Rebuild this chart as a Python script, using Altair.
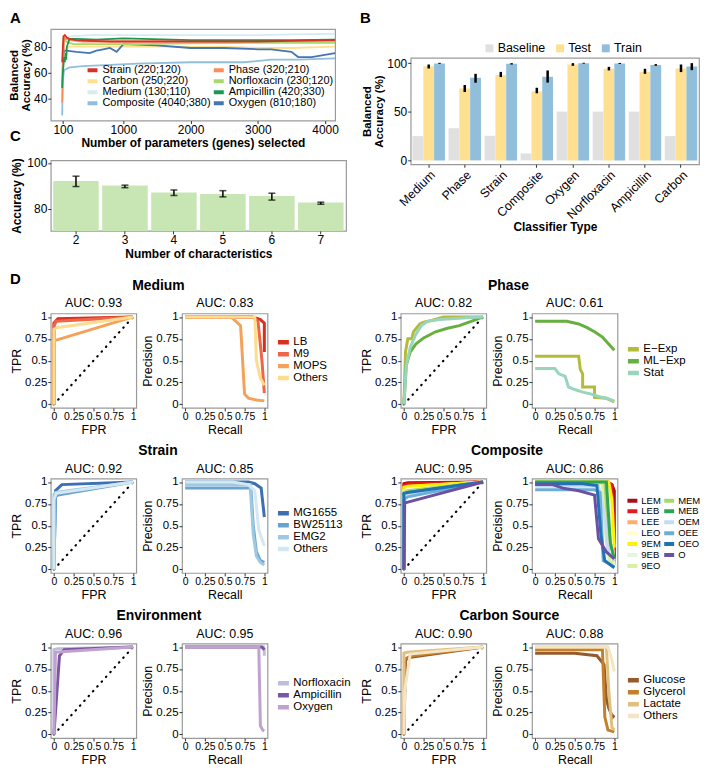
import altair as alt
import pandas as pd

FONT = "Liberation Sans"

# ---------------- Panel A data ----------------
A_NAMES = ["Strain (220;120)", "Carbon (250;220)", "Medium (130;110)", "Composite (4040;380)",
           "Phase (320;210)", "Norfloxacin (230;120)", "Ampicillin (420;330)", "Oxygen (810;180)"]
A_COLORS = ["#D73027", "#FEE090", "#D5ECF3", "#91BFDB", "#FC8D59", "#A6D96A", "#1A9850", "#4575B4"]
A_X = {
    "Strain (220;120)": [90, 100, 110, 130, 160, 200, 300, 500, 800, 1200, 2000, 3000, 3500, 4150],
    "Phase (320;210)": [90, 100, 120, 150, 200, 400, 800, 1500, 2500, 3500, 4150],
    "Carbon (250;220)": [90, 100, 130, 200, 400, 800, 1500, 2500, 3000, 3500, 4150],
    "Norfloxacin (230;120)": [90, 110, 150, 250, 600, 1200, 2000, 3000, 4150],
    "Medium (130;110)": [90, 110, 200, 500, 1000, 2000, 3000, 3500, 4150],
    "Ampicillin (420;330)": [90, 100, 120, 130, 140, 150, 160, 180, 200, 300, 600, 1000, 2000, 3000, 3500, 4150],
    "Composite (4040;380)": [90, 100, 120, 200, 400, 800, 1200, 2000, 2800, 3200, 3600, 4150],
    "Oxygen (810;180)": [110, 130, 150, 300, 500, 600, 700, 800, 900, 1000, 1500, 2000, 2500, 3000, 3200,
                         3500, 3600, 3800, 4150],
}
A_Y = {
    "Strain (220;120)": [68, 80, 88, 89, 87, 86, 85, 84.5, 84, 84, 84, 84, 84.5, 85],
    "Phase (320;210)": [37, 65, 87, 86, 85, 84, 84, 84, 84, 84.5, 84.5],
    "Carbon (250;220)": [50, 70, 78, 80, 80, 80, 80, 80, 79, 79, 80],
    "Norfloxacin (230;120)": [50, 87, 84, 82, 82, 82, 82.5, 83, 83],
    "Medium (130;110)": [55, 85, 88, 89, 89, 89, 89, 89.5, 90],
    "Ampicillin (420;330)": [48, 60, 72, 68, 75, 70, 80, 83, 86, 86, 85.5, 86.5, 85, 85, 85, 85.5],
    "Composite (4040;380)": [27, 55, 62, 64, 65, 66, 67, 68, 68, 70, 70, 71],
    "Oxygen (810;180)": [75, 77, 77, 76, 75, 77, 78, 79, 76, 82, 81, 79, 79, 78, 78, 76, 72, 72, 75],
}
A_DRAW_ORDER = ["Composite (4040;380)", "Medium (130;110)", "Carbon (250;220)", "Oxygen (810;180)",
                "Norfloxacin (230;120)", "Phase (320;210)", "Ampicillin (420;330)", "Strain (220;120)"]
A_XTICKS = [100, 1000, 2000, 3000, 4000]
A_YTICKS = [40, 60, 80]

# ---------------- Panel B data ----------------
B_CLASSES = ["Medium", "Phase", "Strain", "Composite", "Oxygen", "Norfloxacin", "Ampicillin", "Carbon"]
B_TYPES = ["Baseline", "Test", "Train"]
B_COLORS = ["#E0E0E0", "#FEE090", "#91BFDB"]
B_BASE = [25, 33.1, 25.3, 7.2, 50.2, 50.2, 50.2, 25]
B_TEST = [96.9, 74, 87.7, 71, 98.6, 94.2, 91.1, 94.5]
B_TEST_LO = [94.5, 70.3, 85.7, 69, 97.3, 92.5, 89, 90.8]
B_TEST_HI = [98.6, 77.5, 91, 74.7, 100, 96.2, 94.2, 98.6]
B_TRAIN = [99.7, 85, 99.3, 86, 100, 99.7, 98, 96.6]
B_TRAIN_LO = [99.3, 79.9, 98.6, 80, 99.5, 99.2, 97.3, 92.8]
B_TRAIN_HI = [100.3, 89, 100, 92.5, 100.4, 100.2, 99, 100]
B_YTICKS = [0, 25, 50, 75, 100]

# ---------------- Panel C data ----------------
C_N = [2, 3, 4, 5, 6, 7]
C_ACC = [92.1, 90.1, 87.1, 86.5, 85.6, 82.8]
C_LO = [89.7, 89.2, 85.8, 85.2, 83.8, 82.0]
C_HI = [94.2, 90.3, 88.2, 87.9, 86.8, 82.9]
C_YTICKS = [80, 90, 100]

# ---------------- Panel D data ----------------
D_TICKS = [0, 0.25, 0.5, 0.75, 1]

MED_CATS = ["LB", "M9", "MOPS", "Others"]
MED_COLORS = ["#D7301F", "#EF6548", "#F4A259", "#FEDC8E"]
MED_ROC_X = {"LB": [0, 0, 0.05, 1], "M9": [0, 0, 0.03, 1], "MOPS": [0, 0, 0.05, 1], "Others": [0, 0, 0.05, 1]}
MED_ROC_Y = {"LB": [0, 0.93, 0.98, 1], "M9": [0, 0.9, 0.95, 1], "MOPS": [0, 0.73, 0.74, 1], "Others": [0, 0.86, 0.88, 1]}
MED_PR_X = {"LB": [0, 0.85, 0.95, 1, 1], "M9": [0, 0.85, 0.92, 0.97, 1],
            "MOPS": [0, 0.58, 0.7, 0.75, 0.8, 0.9, 1], "Others": [0, 0.88, 0.9, 0.95, 1]}
MED_PR_Y = {"LB": [1, 1, 0.97, 0.93, 0.6], "M9": [1, 1, 0.95, 0.5, 0.13],
            "MOPS": [1, 1, 0.9, 0.12, 0.07, 0.05, 0.04], "Others": [1, 1, 0.5, 0.3, 0.22]}

PH_CATS = ["E\u2212Exp", "ML\u2212Exp", "Stat"]
PH_COLORS = ["#B3BC38", "#67AF3F", "#99D5BD"]
PH_ROC_X = {"E\u2212Exp": [0, 0.02, 0.05, 0.1, 0.12, 0.2, 0.25, 0.35, 0.5, 1],
            "ML\u2212Exp": [0, 0.03, 0.08, 0.15, 0.25, 0.4, 0.55, 0.7, 0.85, 1],
            "Stat": [0, 0.03, 0.08, 0.15, 0.22, 0.3, 0.45, 0.6, 0.8, 1]}
PH_ROC_Y = {"E\u2212Exp": [0, 0.6, 0.75, 0.75, 0.83, 0.92, 0.94, 0.96, 1, 1],
            "ML\u2212Exp": [0, 0.45, 0.6, 0.69, 0.76, 0.83, 0.87, 0.9, 0.95, 1],
            "Stat": [0, 0.45, 0.65, 0.8, 0.9, 0.95, 0.97, 0.98, 0.99, 1]}
PH_PR_X = {"E\u2212Exp": [0, 0.55, 0.57, 0.6, 0.6, 0.75, 0.75, 0.9, 1],
           "ML\u2212Exp": [0, 0.4, 0.55, 0.65, 0.75, 0.85, 0.92, 1],
           "Stat": [0, 0.25, 0.3, 0.38, 0.42, 0.5, 0.6, 0.7, 0.8, 0.9, 1]}
PH_PR_Y = {"E\u2212Exp": [0.55, 0.55, 0.4, 0.35, 0.2, 0.2, 0.08, 0.07, 0.03],
           "ML\u2212Exp": [0.95, 0.95, 0.92, 0.88, 0.83, 0.77, 0.7, 0.62],
           "Stat": [0.41, 0.41, 0.35, 0.32, 0.2, 0.17, 0.14, 0.12, 0.09, 0.07, 0.04]}

ST_CATS = ["MG1655", "BW25113", "EMG2", "Others"]
ST_COLORS = ["#3E6FB0", "#6BA3CF", "#9DCAE0", "#D3E8F2"]
ST_ROC_X = {"MG1655": [0, 0.02, 0.1, 1], "BW25113": [0, 0.02, 0.05, 1], "EMG2": [0, 0, 0.02, 1], "Others": [0, 0, 0.03, 1]}
ST_ROC_Y = {"MG1655": [0, 0.9, 0.97, 1], "BW25113": [0, 0.83, 0.85, 1], "EMG2": [0, 0.86, 0.88, 1], "Others": [0, 0.8, 0.87, 1]}
ST_PR_X = {"MG1655": [0, 0.8, 0.88, 0.96, 1], "BW25113": [0, 0.83, 0.86, 0.9, 0.95, 1],
           "EMG2": [0, 0.82, 0.86, 0.9, 0.95, 1], "Others": [0, 0.6, 0.8, 0.88, 0.93, 1]}
ST_PR_Y = {"MG1655": [1, 1, 0.98, 0.93, 0.6], "BW25113": [0.93, 0.93, 0.5, 0.2, 0.1, 0.08],
           "EMG2": [0.97, 0.97, 0.4, 0.15, 0.08, 0.05], "Others": [1, 1, 0.97, 0.9, 0.45, 0.27]}

CO_CATS = ["LEM", "LEB", "LEE", "LEO", "9EM", "9EB", "9EO", "MEM", "MEB", "OEM", "OEE", "OEO", "O"]
CO_COLORS = ["#A50F15", "#E31A1C", "#FDAE6B", "#FFFFCC", "#FFF200", "#E5F5E0", "#D9F0A3",
             "#A6D96A", "#31A354", "#C6DBEF", "#6BAED6", "#2171B5", "#6A51A3"]
CO_ROC_X = {c: [0, 0, 0.05, 1] for c in CO_CATS}
CO_ROC_X["O"] = [0, 0.01, 0.05, 1]
CO_ROC_Y = {"LEM": [0, 0.98, 0.99, 1], "LEB": [0, 0.96, 0.98, 1], "LEE": [0, 0.93, 0.95, 1],
            "LEO": [0, 0.91, 0.94, 1], "9EM": [0, 0.94, 0.95, 1], "9EB": [0, 0.89, 0.9, 1],
            "9EO": [0, 0.87, 0.9, 1], "MEM": [0, 0.88, 0.9, 1], "MEB": [0, 0.86, 0.88, 1],
            "OEM": [0, 0.83, 0.86, 1], "OEE": [0, 0.8, 0.83, 1], "OEO": [0, 0.87, 0.88, 1],
            "O": [0, 0.76, 0.77, 1]}
CO_PR_X = {"LEM": [0, 0.9, 0.97, 1, 1], "LEB": [0, 0.92, 0.97, 0.99, 1], "LEE": [0, 0.85, 0.9, 0.93, 1],
           "LEO": [0, 0.9, 0.95, 1], "9EM": [0, 0.93, 0.97, 1], "9EB": [0, 0.8, 0.88, 0.93, 1],
           "9EO": [0, 0.85, 0.9, 0.95, 1], "MEM": [0, 0.88, 0.93, 1], "MEB": [0, 0.9, 0.95, 1],
           "OEM": [0, 0.8, 0.88, 0.92, 1], "OEE": [0, 0.75, 0.82, 0.86, 1],
           "OEO": [0, 0.6, 0.78, 0.83, 0.88, 1], "O": [0, 0.22, 0.35, 0.55, 0.75, 0.8, 0.9, 1]}
CO_PR_Y = {"LEM": [0.99, 0.99, 0.97, 0.9, 0.1], "LEB": [1, 1, 0.97, 0.6, 0.05], "LEE": [1, 1, 0.9, 0.1, 0.03],
           "LEO": [1, 1, 0.6, 0.05], "9EM": [1, 1, 0.8, 0.25], "9EB": [0.98, 0.98, 0.5, 0.1, 0.05],
           "9EO": [0.98, 0.98, 0.3, 0.08, 0.08], "MEM": [1, 1, 0.4, 0.1], "MEB": [1, 1, 0.3, 0.12],
           "OEM": [0.95, 0.95, 0.6, 0.2, 0.1], "OEE": [0.91, 0.91, 0.88, 0.1, 0.03],
           "OEO": [0.98, 0.98, 0.96, 0.4, 0.1, 0.02], "O": [0.97, 0.97, 0.93, 0.9, 0.85, 0.35, 0.2, 0.12]}

EN_CATS = ["Norfloxacin", "Ampicillin", "Oxygen"]
EN_COLORS = ["#BDBEDC", "#7A56A4", "#C1A2CF"]
EN_ROC_X = {"Norfloxacin": [0, 0, 0.05, 1], "Ampicillin": [0, 0.07, 0.13, 1], "Oxygen": [0, 0.02, 0.15, 1]}
EN_ROC_Y = {"Norfloxacin": [0, 0.97, 0.98, 1], "Ampicillin": [0, 0.9, 0.97, 1], "Oxygen": [0, 0.94, 0.95, 1]}
EN_PR_X = {"Norfloxacin": [0, 0.99, 1, 1], "Ampicillin": [0, 0.97, 1], "Oxygen": [0, 0.93, 0.95, 0.98, 1]}
EN_PR_Y = {"Norfloxacin": [1, 1, 0.97, 0.9], "Ampicillin": [1, 1, 0.97], "Oxygen": [1, 1, 0.1, 0.05, 0.04]}

CA_CATS = ["Glucose", "Glycerol", "Lactate", "Others"]
CA_COLORS = ["#98592B", "#C3802A", "#DFC07E", "#F4E6C5"]
CA_ROC_X = {"Glucose": [0, 0.02, 0.06, 1], "Glycerol": [0, 0.01, 0.1, 1], "Lactate": [0, 0, 0.04, 1], "Others": [0, 0.01, 0.08, 1]}
CA_ROC_Y = {"Glucose": [0, 0.85, 0.88, 1], "Glycerol": [0, 0.86, 0.9, 1], "Lactate": [0, 0.93, 0.94, 1], "Others": [0, 0.5, 0.92, 1]}
CA_PR_X = {"Glucose": [0, 0.5, 0.78, 0.87, 0.9, 0.93, 0.98, 1], "Glycerol": [0, 0.85, 0.88, 0.92, 1],
           "Lactate": [0, 0.9, 0.93, 0.97, 1], "Others": [0, 0.92, 0.97, 1]}
CA_PR_Y = {"Glucose": [0.93, 0.93, 0.9, 0.8, 0.4, 0.3, 0.2, 0.22], "Glycerol": [0.97, 0.97, 0.2, 0.05, 0.03],
           "Lactate": [1, 1, 0.5, 0.08, 0.05], "Others": [1, 1, 0.85, 0.72]}


# ---------------- helpers ----------------
def long_df(names, xs, ys, field):
    rows = []
    for k, n in enumerate(names):
        for i, (x, y) in enumerate(zip(xs[n], ys[n])):
            rows.append({field: n, "x": x, "y": y, "i": i, "z": k})
    return pd.DataFrame(rows)


def letter(t, x, y):
    return alt.Chart(pd.DataFrame({"t": [t]})).mark_text(
        align="left", baseline="top", fontSize=15, fontWeight="bold", font=FONT, color="black"
    ).encode(text="t:N", x=alt.value(x), y=alt.value(y))


# ---------------- Panel A ----------------
A_W, A_H = 286, 92
dfA = long_df(A_DRAW_ORDER, A_X, A_Y, "series")
lineA = alt.Chart(dfA).mark_line(strokeWidth=1.8, clip=True).encode(
    x=alt.X("x:Q", scale=alt.Scale(domain=[-80, 4150], nice=False, zero=False),
            axis=alt.Axis(values=A_XTICKS, format="d", title="Number of parameters (genes) selected",
                          labelFlush=False, titlePadding=2)),
    y=alt.Y("y:Q", scale=alt.Scale(domain=[23, 93.6], nice=False, zero=False),
            axis=alt.Axis(values=A_YTICKS, title=["Balanced", "Accuracy (%)"], titleFontSize=11.5,
                          titleLineHeight=12, titlePadding=2, labelPadding=1)),
    color=alt.Color("series:N", scale=alt.Scale(domain=A_NAMES, range=A_COLORS),
                    legend=alt.Legend(orient="none", legendX=35, legendY=36, columns=2, title=None,
                                      symbolType="stroke", symbolStrokeWidth=4, symbolSize=100,
                                      labelFontSize=11, rowPadding=-2.5, columnPadding=1, labelOffset=3,
                                      clipHeight=11)),
    order=alt.Order("i:Q"),
)
chartA = alt.layer(lineA, letter("A", -41, -18), letter("C", -41, 101)).properties(width=A_W, height=A_H)

# ---------------- Panel C ----------------
C_W, C_H = 297, 71
dfC = pd.DataFrame({"n": C_N, "acc": C_ACC, "lo": C_LO, "hi": C_HI, "zero": [0] * len(C_N)})
c_x = alt.X("n:O", scale=alt.Scale(paddingInner=0.07, paddingOuter=0.05),
            axis=alt.Axis(labelAngle=0, title="Number of characteristics", titlePadding=3))
c_yscale = alt.Scale(domain=[70.4, 101.1], nice=False, zero=False)
barsC = alt.Chart(dfC).mark_bar(color="#C8E6B4", clip=True).encode(
    x=c_x,
    y=alt.Y("acc:Q", scale=c_yscale, axis=alt.Axis(values=C_YTICKS, title="Accuracy (%)")),
    y2="zero:Q",
)
errC = alt.Chart(dfC).mark_rule(color="black", strokeWidth=1.5).encode(x=c_x, y=alt.Y("lo:Q", scale=c_yscale), y2="hi:Q")
capLo = alt.Chart(dfC).mark_tick(color="black", size=7, thickness=1.5).encode(x=c_x, y=alt.Y("lo:Q", scale=c_yscale))
capHi = alt.Chart(dfC).mark_tick(color="black", size=7, thickness=1.5).encode(x=c_x, y=alt.Y("hi:Q", scale=c_yscale))
chartC = alt.layer(barsC, errC, capLo, capHi, letter("D", -41, 112)).properties(width=C_W, height=C_H)

# ---------------- Panel B ----------------
B_W, B_H = 290, 107
rowsB = []
for k, c in enumerate(B_CLASSES):
    rowsB.append({"cls": c, "type": "Baseline", "val": B_BASE[k], "lo": None, "hi": None})
    rowsB.append({"cls": c, "type": "Test", "val": B_TEST[k], "lo": B_TEST_LO[k], "hi": B_TEST_HI[k]})
    rowsB.append({"cls": c, "type": "Train", "val": B_TRAIN[k], "lo": B_TRAIN_LO[k], "hi": B_TRAIN_HI[k]})
dfB = pd.DataFrame(rowsB)
b_x = alt.X("cls:N", sort=B_CLASSES, scale=alt.Scale(paddingInner=0.1, paddingOuter=0.05),
            axis=alt.Axis(labelAngle=-45, title="Classifier Type", labelFontSize=12.5, titlePadding=1))
b_off = alt.XOffset("type:N", sort=B_TYPES, scale=alt.Scale(paddingInner=0, paddingOuter=0))
b_yscale = alt.Scale(domain=[-4, 105.4], nice=False, zero=False)
barsB = alt.Chart(dfB).mark_bar().encode(
    x=b_x, xOffset=b_off,
    y=alt.Y("val:Q", scale=b_yscale, axis=alt.Axis(values=B_YTICKS, title=["Balanced", "Accuracy (%)"],
                                                 titleFontSize=11.5, titleLineHeight=12, titlePadding=2,
                                                 labelPadding=1)),
    color=alt.Color("type:N", scale=alt.Scale(domain=B_TYPES, range=B_COLORS),
                    legend=alt.Legend(orient="none", legendX=73, legendY=-16, direction="horizontal",
                                      title=None, symbolType="square", symbolSize=64, symbolStrokeWidth=0,
                                      labelFontSize=12.5, columnPadding=8, labelOffset=2)),
)
errB = alt.Chart(dfB).transform_filter("datum.type != 'Baseline'").mark_rule(color="black", strokeWidth=2.5).encode(
    x=b_x, xOffset=b_off, y=alt.Y("lo:Q", scale=b_yscale), y2="hi:Q")
chartB = alt.layer(barsB, errB).properties(width=B_W, height=B_H)
spacerB = letter("B", -51, -18).properties(width=B_W, height=1, view=alt.ViewBackground(stroke="transparent"))

# ---------------- Panel D ----------------
D_W, D_H = 86, 95


def d_axis(t, lsize):
    return alt.Axis(values=D_TICKS, format=".2~f", title=t, labelFlush=False, labelOverlap=False,
                    titleFontWeight="normal", titleFontSize=12.5, labelFontSize=lsize,
                    labelPadding=1, titlePadding=1)


def d_group(key, title, auc_roc, auc_pr, cats, colors, rx, ry, px, py, cols=1, lfs=11.5,
            first=30, tdx=0, ssize=121, sw=4.5, ch=11.3, rp=-1.5):
    cscale = alt.Scale(domain=cats, range=colors)
    sc = alt.Scale(domain=[-0.04, 1.04], nice=False, zero=False)
    xr = alt.X("x:Q", scale=sc, axis=d_axis("FPR", 10.5))
    yr = alt.Y("y:Q", scale=sc, axis=d_axis("TPR", 11.5))
    diag = alt.Chart(pd.DataFrame({"x": [0, 1], "y": [0, 1]})).mark_line(
        color="black", strokeDash=[0.5, 6], strokeWidth=2.2, strokeCap="round"
    ).encode(x=xr, y=yr)
    roc_lines = alt.Chart(long_df(cats, rx, ry, key)).mark_line(strokeWidth=3, clip=True).encode(
        x=xr, y=yr, color=alt.Color(f"{key}:N", scale=cscale, legend=None), order=alt.Order("i:Q"))
    roc = alt.layer(diag, roc_lines).properties(
        width=D_W, height=D_H,
        title=alt.Title(f"AUC: {auc_roc}", fontSize=12.5, fontWeight="normal", offset=1))
    pr = alt.Chart(long_df(cats, px, py, key)).mark_line(strokeWidth=3, clip=True).encode(
        x=alt.X("x:Q", scale=sc, axis=d_axis("Recall", 10.5)),
        y=alt.Y("y:Q", scale=sc, axis=d_axis("Precision", 11.5)),
        color=alt.Color(f"{key}:N", scale=cscale,
                        legend=alt.Legend(orient="none", legendX=D_W + 8, legendY=first - ch / 2,
                                          title=None, columns=cols, symbolType="stroke",
                                          symbolStrokeWidth=sw, symbolSize=ssize, labelFontSize=lfs,
                                          rowPadding=rp, columnPadding=1, labelOffset=2, clipHeight=ch)),
        order=alt.Order("i:Q"),
    ).properties(width=D_W, height=D_H,
                 title=alt.Title(f"AUC: {auc_pr}", fontSize=12.5, fontWeight="normal", offset=1))
    return alt.hconcat(roc, pr, spacing=3).properties(
        title=alt.Title(title, anchor="middle", fontSize=14, fontWeight="bold", offset=4, dx=tdx)
    ).resolve_scale(color="independent")


g1 = d_group("k_med", "Medium", "0.93", "0.83", MED_CATS, MED_COLORS, MED_ROC_X, MED_ROC_Y, MED_PR_X, MED_PR_Y,
             first=29, tdx=-11)
g2 = d_group("k_ph", "Phase", "0.82", "0.61", PH_CATS, PH_COLORS, PH_ROC_X, PH_ROC_Y, PH_PR_X, PH_PR_Y,
             first=36, tdx=-15)
g3 = d_group("k_st", "Strain", "0.92", "0.85", ST_CATS, ST_COLORS, ST_ROC_X, ST_ROC_Y, ST_PR_X, ST_PR_Y,
             first=35, tdx=-19, lfs=11.5, rp=-1)
g4 = d_group("k_co", "Composite", "0.95", "0.86", CO_CATS, CO_COLORS, CO_ROC_X, CO_ROC_Y, CO_PR_X, CO_PR_Y,
             cols=2, lfs=9.5, first=22, tdx=-24, ssize=100, sw=4, ch=10.2, rp=0)
g5 = d_group("k_en", "Environment", "0.96", "0.95", EN_CATS, EN_COLORS, EN_ROC_X, EN_ROC_Y, EN_PR_X, EN_PR_Y,
             first=40, tdx=-22)
g6 = d_group("k_ca", "Carbon Source", "0.90", "0.88", CA_CATS, CA_COLORS, CA_ROC_X, CA_ROC_Y, CA_PR_X, CA_PR_Y,
             first=37, tdx=-14)

dsec = alt.concat(g1, g2, g3, g4, g5, g6, columns=2,
                  spacing={"row": 7, "column": 8}).resolve_scale(color="independent")

left = alt.vconcat(chartA, chartC, spacing=6).resolve_scale(color="independent")
right = alt.vconcat(spacerB, chartB, spacing=10).resolve_scale(color="independent")
top = alt.hconcat(left, right, spacing=12).resolve_scale(color="independent")

chart = alt.vconcat(top, dsec, spacing=-9).resolve_scale(color="independent").properties(
    padding=0
).configure(font=FONT).configure_view(stroke="#9a9a9a", strokeWidth=1.2).configure_axis(
    labelFontSize=12, labelColor="black", labelFont=FONT, titleFont=FONT, titleColor="black",
    titleFontSize=12, titleFontWeight="bold", tickColor="#333333", tickSize=3, domain=False, grid=False,
    titlePadding=3, labelPadding=1
).configure_title(font=FONT, color="black")

chart.save("out.html", embed_options={"renderer": "svg", "actions": False})
